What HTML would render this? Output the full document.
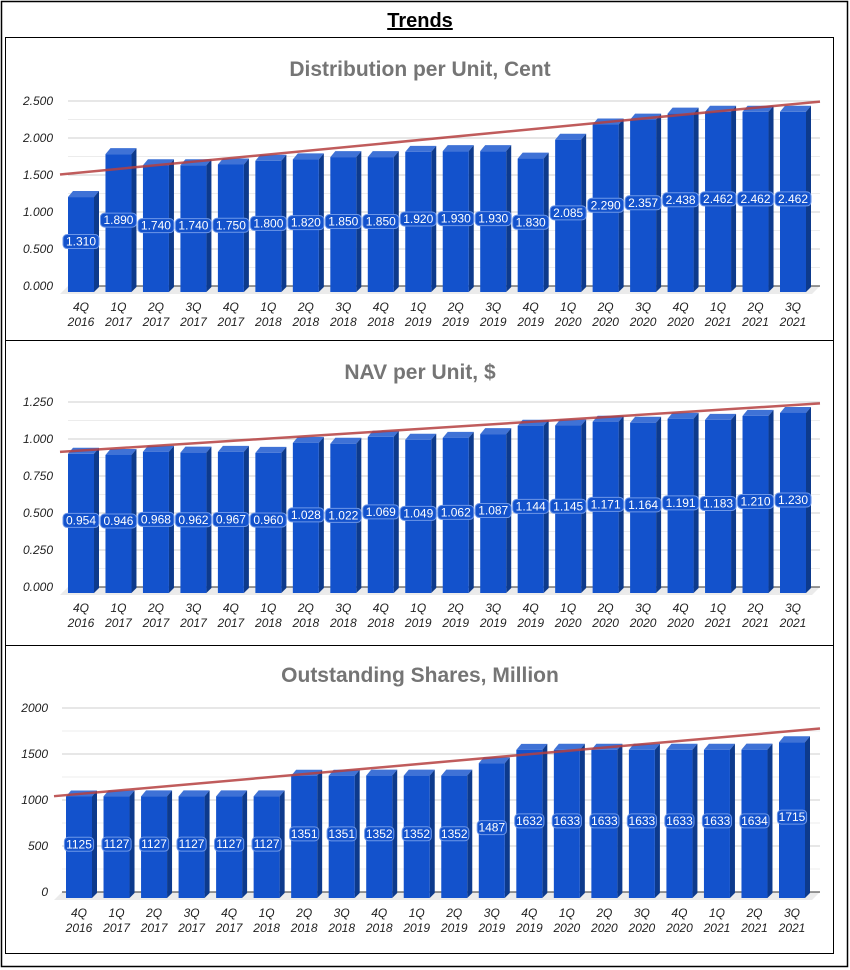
<!DOCTYPE html>
<html><head><meta charset="utf-8"><style>
body{margin:0;background:#fff;}
svg{display:block;font-family:"Liberation Sans",sans-serif;}
</style></head><body>
<svg id="s" width="850" height="970" xmlns="http://www.w3.org/2000/svg">
<rect x="1.5" y="1.5" width="846" height="965" fill="none" stroke="#000" stroke-width="1.5"/>
<rect x="5.5" y="37.5" width="828" height="916" fill="none" stroke="#000" stroke-width="1"/>
<line x1="5" y1="340.5" x2="834" y2="340.5" stroke="#000"/>
<line x1="5" y1="645.5" x2="834" y2="645.5" stroke="#000"/>
<text x="420" y="27" text-anchor="middle" font-size="20" font-weight="bold" text-decoration="underline">Trends</text>
</svg>
<script>
const categories=["4Q|2016","1Q|2017","2Q|2017","3Q|2017","4Q|2017","1Q|2018","2Q|2018","3Q|2018","4Q|2018","1Q|2019","2Q|2019","3Q|2019","4Q|2019","1Q|2020","2Q|2020","3Q|2020","4Q|2020","1Q|2021","2Q|2021","3Q|2021"];
const distValues=[1.310,1.890,1.740,1.740,1.750,1.800,1.820,1.850,1.850,1.920,1.930,1.930,1.830,2.085,2.290,2.357,2.438,2.462,2.462,2.462];
const navValues=[0.954,0.946,0.968,0.962,0.967,0.960,1.028,1.022,1.069,1.049,1.062,1.087,1.144,1.145,1.171,1.164,1.191,1.183,1.210,1.230];
const sharesValues=[1125,1127,1127,1127,1127,1127,1351,1351,1352,1352,1352,1487,1632,1633,1633,1633,1633,1633,1634,1715];
const distTicks=["0.000","0.500","1.000","1.500","2.000","2.500"];
const navTicks=["0.000","0.250","0.500","0.750","1.000","1.250"];
const sharesTicks=["0","500","1000","1500","2000"];
const NS="http://www.w3.org/2000/svg";
const svg=document.getElementById('s');
function el(t,a,p){const e=document.createElementNS(NS,t);for(const k in a)e.setAttribute(k,a[k]);(p||svg).appendChild(e);return e;}
function chart(cfg){
  const g=el('g',{});
  
  
  const max=cfg.max,y0=cfg.y0,y1=cfg.y1,xl=cfg.xl,xr=820;
  const y=v=>y0-(v/max)*(y0-y1);
  const n=categories.length,step=(cfg.lastC-cfg.firstC)/(n-1);
  const x=i=>cfg.firstC+i*step;
  const t=el('text',{x:420,y:cfg.ty,'text-anchor':'middle','font-size':21,'font-weight':'bold',fill:'#757575'},g);
  t.textContent=cfg.title;
  
  
  const nt=cfg.ticks.length;
  for(let k=0;k<(nt-1)*2+1;k++){
    const v=max*k/((nt-1)*2),yy=y(v);
    el('line',{x1:xl,x2:xr,y1:yy,y2:yy,stroke:k%2?'#ececec':'#cfcfcf','stroke-width':1},g);
  }
  cfg.ticks.forEach((tk,k)=>{
    const tt=el('text',{x:cfg.lx,y:y(max*k/(nt-1))+4,'text-anchor':'end','font-size':12,'font-style':'italic',fill:'#222'},g);
    tt.textContent=tk;
    
    
  });
  el('polygon',{points:`${xl-8},${y0+8} ${xr-8},${y0+8} ${xr},${y0} ${xl},${y0}`,fill:'#ebebeb'},g);
  el('line',{x1:xl,x2:xr,y1:y0,y2:y0,stroke:'#333','stroke-width':1},g);
  const bw=26,d=5;
  cfg.values.forEach((v,i)=>{
    const cx=x(i),bx=cx-bw/2,by=y(v)+8;
    const bg=el('g',{},g);
    
    
    el('polygon',{points:`${bx},${by} ${bx+d},${by-6} ${bx+bw+d},${by-6} ${bx+bw},${by}`,fill:'#3f72d6'},bg);
    el('polygon',{points:`${bx+bw},${by} ${bx+bw+d},${by-6} ${bx+bw+d},${y0+1} ${bx+bw},${y0+6}`,fill:'#0d3a8c'},bg);
    el('rect',{x:bx,y:by,width:bw,height:y0+6-by,fill:'#1352cc'},bg);
    const ly=(by+y0)/2+4;
    const txt=cfg.fmt(v);
    const w=txt.length*6.8+2;
    el('rect',{x:cx-w/2,y:ly-11,width:w,height:14,rx:4,fill:'#1352cc',stroke:'#6d97e8','stroke-width':1},bg);
    const lt=el('text',{x:cx,y:ly,'text-anchor':'middle','font-size':12,fill:'#fff'},bg);
    lt.textContent=txt;
    const [a,b]=categories[i].split('|');
    const c1=el('text',{x:cx,y:y0+25,'text-anchor':'middle','font-size':12,'font-style':'italic',fill:'#222'},g);
    c1.textContent=a;
    
    
    const c2=el('text',{x:cx,y:y0+40,'text-anchor':'middle','font-size':12,'font-style':'italic',fill:'#222'},g);
    c2.textContent=b;
    
    
  });
  let sx=0,sy=0,sxx=0,sxy=0;
  cfg.values.forEach((v,i)=>{sx+=i;sy+=v;sxx+=i*i;sxy+=i*v;});
  const m=(n*sxy-sx*sy)/(n*sxx-sx*sx),b0=(sy-m*sx)/n;
  const i0=(xl-8-cfg.firstC)/step,i1=(xr-cfg.firstC)/step;
  const tl=el('line',{x1:xl-8,y1:y(b0+m*i0),x2:xr,y2:y(b0+m*i1),stroke:'#b5403f','stroke-opacity':0.85,'stroke-width':2.5},g);
  
  
}
chart({name:'distribution-chart',title:'Distribution per Unit, Cent',values:distValues,ticks:distTicks,max:2.5,y0:286,y1:101,ty:76,xl:68,lx:53,firstC:81,lastC:793,fmt:v=>v.toFixed(3)});
chart({name:'nav-chart',title:'NAV per Unit, $',values:navValues,ticks:navTicks,max:1.25,y0:587,y1:402,ty:379,xl:68,lx:53,firstC:81,lastC:793,fmt:v=>v.toFixed(3)});
chart({name:'shares-chart',title:'Outstanding Shares, Million',values:sharesValues,ticks:sharesTicks,max:2000,y0:892,y1:708,ty:682,xl:62,lx:48,firstC:79,lastC:792,fmt:v=>String(v)});
</script>
</body></html>
